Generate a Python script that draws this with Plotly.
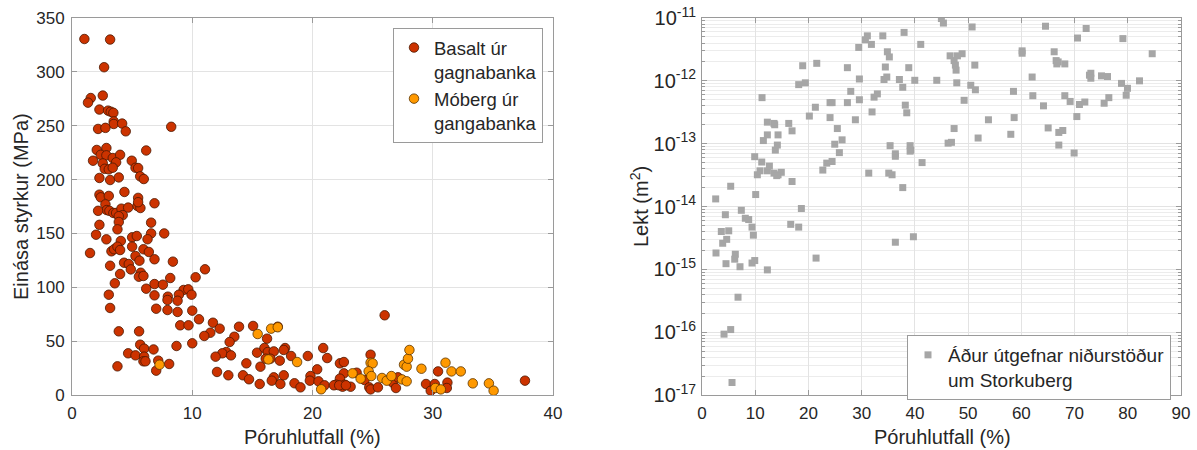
import plotly.graph_objects as go

# ---------------- Left panel data ----------------
basalt_por = [1.03, 3.17, 2.67, 1.56, 1.33, 2.56, 2.28, 3.0, 3.22, 3.44, 3.47, 3.47, 4.17, 4.47, 2.17, 2.78, 8.25,
              2.06, 2.86, 2.39, 2.86, 3.39, 4.0, 6.17, 1.75, 2.56, 3.67, 4.97, 5.28, 5.5, 2.72, 3.06, 3.39, 2.28,
              3.17, 3.89, 5.67, 5.97,
              2.28, 2.39, 3.06, 4.36, 5.5, 5.44, 5.69, 5.5, 6.86, 2.78, 2.89, 2.17, 3.11, 3.44, 3.67, 4.11, 4.67,
              4.22, 3.89, 3.89, 2.28, 3.78, 6.58, 6.58, 7.67, 2.0, 2.86, 4.06, 5.0, 5.39, 6.28, 1.5, 3.28, 3.5,
              3.78, 4.0, 5.0, 5.94, 6.39, 5.28, 5.61, 6.86, 8.39, 4.33, 4.72, 3.17, 4.89, 5.72, 5.56, 5.94, 4.0,
              8.17, 10.28, 3.56, 6.17, 6.86, 7.56, 9.28, 9.67, 9.94, 8.89, 8.78, 3.06, 6.86, 7.97, 7.94,
              3.17, 7.0, 7.94, 8.78, 10.0, 10.56, 3.89, 5.58, 9.0, 9.69, 10.0, 8.69, 5.67, 6.0, 6.78, 4.67, 5.28,
              6.0, 5.94, 6.11, 7.17, 8.08, 7.0, 3.78,
              11.06, 11.72, 11.5, 11.0, 12.28, 13.89, 13.5, 15.06, 13.11, 12.83, 12.5, 11.94, 13.22, 12.06, 13.0,
              14.5, 14.22, 14.72, 15.61, 15.39, 15.67, 16.22, 17.11,
              16.0, 16.28, 16.78, 16.11, 16.5, 17.28, 17.72, 17.61, 18.22, 19.61, 16.78, 16.61, 17.33, 18.5, 19.0,
              20.89, 21.22, 20.39, 19.83, 19.78, 20.5, 21.0, 22.28, 22.61, 22.61, 22.28, 21.94, 22.5, 23.17,
              22.67, 24.83, 24.33, 24.72, 24.83, 25.44, 26.0, 17.61,
              21.78, 22.22, 22.78, 23.67, 26.67, 26.94, 27.11, 29.44, 29.83, 30.17, 30.44, 31.22, 31.17, 37.67]
basalt_str = [330.5, 330, 304.3, 275.7, 271.4, 278, 265, 264, 263, 262, 254, 251.6, 252, 244.8, 247, 248, 249,
              227.5, 229.3, 223, 222.5, 220, 223, 227, 217.5, 215, 216, 217.5, 211, 210.7, 210, 209.5, 211, 201.5,
              199.6, 202, 203, 200.5,
              186, 183.5, 184.8, 188.5, 183, 175.5, 173.6, 179, 178, 177, 171.7, 171, 171, 169, 169, 173, 174,
              167, 166, 160.6, 158, 153.8, 160, 150, 150, 148.8, 144.5, 143, 146.4, 147.6, 144.6, 131.8, 133.4,
              135.3, 137.7, 134.6, 137.7, 135.3, 132.8, 129, 124.7, 126, 123.8, 122.8, 121.6, 120, 116.6, 113.5,
              109.8, 110.5, 112.3, 108.6, 109.3, 103.7, 98.7, 103, 102.4, 97.5, 98.1, 93.1, 93.1, 87.5, 93.1,
              92.5, 91.3, 88.2,
              80.8, 80.1, 78.9, 77.1, 78.3, 70.3, 59.1, 59.1, 64.7, 64.7, 48, 45.5, 46.7, 43, 42.3, 38.7, 36.8,
              35.6, 31.3, 31.3, 31.9, 28.8, 22.6, 26.6,
              116.7, 67.1, 57.8, 54.8, 61.6, 63.4, 54.1, 64.1, 49.2, 39.9, 38.7, 35.6, 36.8, 21.4, 18.3,
              29.4, 18.3, 14.6, 10.2, 39.3, 26.3, 52.3, 63.4,
              43.6, 39.9, 40.5, 33.7, 33.7, 31.9, 43.6, 41.8, 36.2, 36.2, 16.4, 13.3, 10.2, 10.9, 7.1,
              43.6, 34.3, 23.8, 17.6, 13.3, 12.7, 9.0, 29.4, 30.6, 20.1, 15.2, 9.6, 7.7, 7.7,
              9.6, 37.4, 13.9, 7.1, 5.2, 7.1, 74, 18.3,
              9.0, 9.0, 9.0, 20.7, 11.5, 6.5, 16.4, 10.2, 4.0, 10.2, 21.9, 11.5, 6.5, 13.3]

moberg_por = [7.28, 15.44, 16.56, 17.11, 16.33, 18.72, 20.72, 23.33, 24.0, 24.83, 25.0, 24.67, 24.89, 25.78,
              26.17, 26.56, 27.44, 27.83, 27.61, 27.83, 27.94, 28.06, 29.06, 30.22, 30.67, 31.06, 31.56, 32.33,
              33.33, 34.67, 35.06]
moberg_str = [28.1, 56.6, 61.6, 62.9, 33.0, 30.6, 5.3, 20.1, 15.2, 30, 29.4, 22, 17.6, 15.8,
              13.3, 17.6, 14.5, 12.7, 28.1, 26.3, 33.7, 41.8, 24.4, 6.5, 5.2, 30, 21.9, 21.9,
              10.8, 10.8, 4.0]

# ---------------- Right panel data ----------------
perm_por = [2.57, 4.39, 7.39, 8.14, 8.77, 5.39, 10.09, 11.28, 9.9, 10.4, 10.9, 11.22, 11.53, 12.28, 12.28, 13.53,
            13.66, 12.28, 12.66, 14.29, 14.16, 13.78, 13.53, 14.29, 14.9, 14.04, 16.92, 16.3, 16.92, 18.17, 19.42,
            18.92, 18.67, 21.56, 21.3, 20.17, 22.7, 23.44, 24.44, 24.06, 24.44, 24.06, 25.43, 26.32, 25.81, 24.94,
            27.32, 27.32, 27.95, 28.82, 29.45, 29.57, 29.57, 30.7, 31.07, 31.83, 31.33, 31.95, 32.33, 32.95, 33.97,
            34.2, 34.72, 34.83, 35.2, 34.45, 35.34, 36.33, 36.33, 35.09, 35.71, 37.09, 37.72, 38.2, 38.47, 37.97,
            37.72, 38.85, 39.1, 39.22, 39.1, 41.1, 39.98, 41.35, 44.98, 45.36, 44.11, 46.62, 47.37, 47.61, 47.74,
            47.99, 48.87, 47.87, 49.25, 47.37, 46.24, 46.87, 50.75, 51.26, 50.5, 51.37, 51.88, 53.82, 58.52, 58.65,
            58.02, 60.15, 60.15, 62.03, 62.16, 64.16, 64.54, 65.04, 66.17, 66.54, 66.67, 66.92, 68.17, 68.17, 67.04,
            67.79, 67.04, 69.17, 69.92, 70.43, 70.55, 70.92, 71.93, 72.18, 72.8, 73.06, 73.06, 75.06, 76.19, 75.56,
            76.44, 78.82, 79.94, 79.7, 79.08, 82.2, 84.59,
            9.4, 9.65, 3.63, 3.89, 5.02, 4.64, 2.63, 4.51, 6.26, 6.15, 7.14, 9.4, 9.91, 12.28, 6.77, 4.14, 5.39,
            5.64, 16.67, 18.17, 21.43, 36.33, 39.72]
perm_val = [1.32e-14, 7.4e-15, 8.7e-15, 6.5e-15, 6.2e-15, 2.1e-14, 1.55e-14, 5.4e-13, 6.2e-14, 3.2e-14, 3.7e-14,
            5.1e-14, 1.12e-13, 2.2e-13, 1.38e-13, 2.1e-13, 2.0e-13, 3.7e-14, 4.4e-14, 1.38e-13, 9.5e-14, 7.9e-14,
            3.4e-14, 3.2e-14, 3.5e-14, 3.1e-14, 2.5e-14, 2.1e-13, 1.6e-13, 8.7e-13, 9.3e-13, 1.74e-12, 9.3e-15,
            1.9e-12, 3.8e-13, 2.75e-13, 3.8e-14, 4.9e-14, 5.2e-14, 4.5e-13, 4.5e-13, 2.6e-13, 1.74e-13, 1.15e-13,
            7.2e-14, 9.8e-14, 1.62e-12, 4.5e-13, 6.8e-13, 2.4e-13, 3.4e-12, 1.07e-12, 5.0e-13, 4.5e-12, 5.2e-12,
            3.8e-12, 3.4e-14, 3.2e-13, 5.5e-13, 6.2e-13, 5.2e-12, 1.05e-12, 1.15e-12, 2.9e-12, 2.4e-12, 1.66e-12,
            9.3e-14, 6.9e-14, 6.3e-14, 3.4e-14, 3.2e-14, 1.05e-12, 7.9e-13, 4.1e-13, 3.1e-13, 5.9e-12, 2.0e-14,
            1.62e-12, 9.3e-14, 7.9e-14, 7.6e-14, 3.8e-12, 1.02e-12, 5.0e-14, 9.8e-12, 8.3e-12, 1.02e-12, 2.5e-12,
            2.1e-12, 1.78e-12, 1.48e-12, 2.5e-12, 2.7e-12, 9.3e-13, 4.9e-13, 1.74e-13, 1.02e-13, 1.05e-13, 7.2e-12,
            1.78e-12, 8.5e-13, 7.2e-13, 1.23e-13, 2.4e-13, 6.8e-13, 2.6e-13, 1.41e-13, 3.0e-12, 2.75e-12, 1.15e-12,
            5.8e-13, 4.0e-13, 7.4e-12, 1.78e-13, 2.9e-12, 2.1e-12, 1.86e-12, 2.0e-12, 1.86e-12, 5.8e-13, 1.51e-13,
            1.62e-13, 9.5e-14, 4.7e-13, 7.1e-14, 2.7e-13, 4.8e-12, 4.2e-13, 4.6e-13, 6.8e-12, 1.23e-12, 1.32e-12,
            1.1e-12, 1.2e-12, 1.17e-12, 4.4e-13, 5.4e-13, 9.1e-13, 7.6e-13, 5.9e-13, 4.7e-12, 1.0e-12, 2.7e-12,
            4.7e-15, 3.5e-15, 4.0e-15, 2.6e-15, 4.1e-15, 3.0e-15, 1.82e-15, 1.23e-15, 1.74e-15, 1.45e-15, 1.1e-15,
            1.26e-15, 1.38e-15, 9.8e-16, 3.6e-16, 9.3e-17, 1.1e-16, 1.58e-17, 5.2e-15, 4.7e-15, 1.51e-15, 2.7e-15,
            3.3e-15]

left_xticks = [0, 10, 20, 30, 40]
left_yticks = [0, 50, 100, 150, 200, 250, 300, 350]
right_xticks = [0, 10, 20, 30, 40, 50, 60, 70, 80, 90]
right_yticks = [1e-17, 1e-16, 1e-15, 1e-14, 1e-13, 1e-12, 1e-11]
right_yticktext = ["10<sup>-17</sup>", "10<sup>-16</sup>", "10<sup>-15</sup>", "10<sup>-14</sup>",
                   "10<sup>-13</sup>", "10<sup>-12</sup>", "10<sup>-11</sup>"]

FONT = "Liberation Sans, Arial, sans-serif"
AXCOL = "#9a9a9a"
GRID = "#e3e3e3"
TXT = "#262626"
W, H = 1197, 450


def px(v):
    return v / W


def py(v):
    return 1 - v / H


fig = go.Figure()
fig.add_trace(go.Scatter(
    x=basalt_por, y=basalt_str, mode="markers", name="Basalt úr<br>gagnabanka",
    marker=dict(size=9.5, color="#cc3300", line=dict(color="#4a1800", width=0.8)),
    xaxis="x", yaxis="y", legend="legend"))
fig.add_trace(go.Scatter(
    x=moberg_por, y=moberg_str, mode="markers", name="Móberg úr<br>gangabanka",
    marker=dict(size=9.5, color="#ff9900", line=dict(color="#5a3300", width=0.8)),
    xaxis="x", yaxis="y", legend="legend"))
fig.add_trace(go.Scatter(
    x=perm_por, y=perm_val, mode="markers", name="Áður útgefnar niðurstöður<br>um Storkuberg",
    marker=dict(size=7, symbol="square", color="#a6a6a6"),
    xaxis="x2", yaxis="y2", legend="legend2"))

common = dict(showline=True, linecolor=AXCOL, linewidth=1, mirror="ticks", ticks="inside", ticklen=5,
              tickcolor=AXCOL, showgrid=True, gridcolor=GRID, gridwidth=1, zeroline=False,
              automargin=False, ticklabelstandoff=3,
              tickfont=dict(family=FONT, size=17, color=TXT))
common_y2 = dict(common)
common_y2["tickfont"] = dict(family=FONT, size=20, color=TXT)
common_y2["ticklabelstandoff"] = 1

fig.update_layout(
    template="none",
    width=W, height=H, autosize=False,
    margin=dict(l=0, r=0, t=0, b=0, pad=0),
    paper_bgcolor="white", plot_bgcolor="white",
    font=dict(family=FONT, color=TXT),
    xaxis=dict(domain=[px(72), px(553)], range=[0, 40], tickvals=left_xticks, anchor="y", **common),
    yaxis=dict(domain=[py(395), py(18)], range=[0, 350], tickvals=left_yticks, anchor="x", **common),
    xaxis2=dict(domain=[px(702), px(1181)], range=[0, 90], tickvals=right_xticks, anchor="y2", **common),
    yaxis2=dict(domain=[py(395), py(18)], type="log", range=[-17, -11], tickvals=right_yticks,
                ticktext=right_yticktext, anchor="x2",
                minor=dict(dtick="D1", showgrid=True, gridcolor="#ececec", ticks="inside", ticklen=3,
                           tickcolor=AXCOL),
                **common_y2),
    legend=dict(x=px(393), y=py(28), xanchor="left", yanchor="top", bgcolor="white",
                bordercolor=AXCOL, borderwidth=1, font=dict(family=FONT, size=18.5, color=TXT),
                valign="top", itemwidth=30, tracegroupgap=0),
    legend2=dict(x=px(907), y=py(335), xanchor="left", yanchor="top", bgcolor="white",
                 bordercolor=AXCOL, borderwidth=1, font=dict(family=FONT, size=19, color=TXT),
                 valign="top", itemwidth=30),
    showlegend=True,
    annotations=[
        dict(text="Einása styrkur (MPa)", x=px(21), y=py(207), xref="paper", yref="paper",
             xanchor="center", yanchor="middle",
             textangle=-90, showarrow=False, font=dict(family=FONT, size=20, color=TXT)),
        dict(text="Póruhlutfall (%)", x=px(312), y=py(437), xref="paper", yref="paper",
             xanchor="center", yanchor="middle",
             showarrow=False, font=dict(family=FONT, size=20, color=TXT)),
        dict(text="Lekt (m<sup>2</sup>)", x=px(640), y=py(207), xref="paper", yref="paper",
             xanchor="center", yanchor="middle",
             textangle=-90, showarrow=False, font=dict(family=FONT, size=20, color=TXT)),
        dict(text="Póruhlutfall (%)", x=px(942), y=py(437), xref="paper", yref="paper",
             xanchor="center", yanchor="middle",
             showarrow=False, font=dict(family=FONT, size=20, color=TXT)),
    ],
)

fig.write_html("out.html", config={"displayModeBar": False},
               post_script="document.body.style.margin='0px';")
